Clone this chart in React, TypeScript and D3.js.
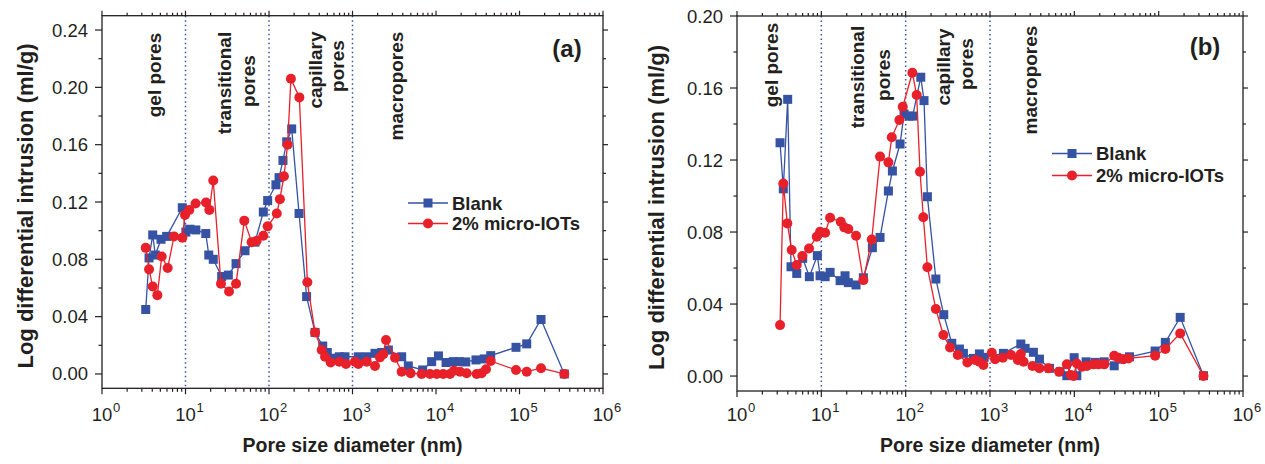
import * as d3 from "d3";
import React, { useEffect, useRef } from "react";

// pore diameter (nm), log differential intrusion (ml/g)
const blankA: [number, number][] = [
  [3.34, 0.045], [3.66, 0.081], [4.05, 0.097], [4.35, 0.083], [5.09, 0.094], [5.95, 0.096],
  [9.16, 0.116], [10.1, 0.099], [11.3, 0.101], [13.3, 0.1005], [17.5, 0.098], [19.0, 0.083],
  [21.5, 0.08], [27.1, 0.068], [32.6, 0.069], [40.3, 0.077], [51.6, 0.086], [68, 0.092],
  [85.5, 0.113], [96.4, 0.121], [121, 0.132], [132, 0.137], [147, 0.149], [163, 0.162],
  [187, 0.171], [229, 0.112], [282, 0.054], [356, 0.029], [440, 0.0195], [499, 0.015],
  [589, 0.011], [695, 0.012], [813, 0.012], [1175, 0.012], [1480, 0.012], [1860, 0.0144],
  [2240, 0.015], [2690, 0.0167], [3880, 0.012], [4660, 0.0056], [6920, 0.0028], [8870, 0.0086],
  [10700, 0.0126], [13200, 0.008], [16100, 0.0086], [19000, 0.0086], [22700, 0.0084],
  [30100, 0.0098], [37900, 0.0105], [45200, 0.0128], [90800, 0.0186], [122000, 0.021],
  [181000, 0.038], [344000, 0.0],
];

const iotsA: [number, number][] = [
  [3.34, 0.088], [3.66, 0.073], [4.05, 0.061], [4.6, 0.055], [5.19, 0.082], [6.12, 0.074],
  [7.28, 0.096], [9.16, 0.095], [9.86, 0.111], [11.1, 0.1145], [13.2, 0.119], [17.6, 0.1196],
  [19.3, 0.1145], [21.5, 0.135], [26.6, 0.063], [33.2, 0.0575], [40.3, 0.063], [50.6, 0.107],
  [62, 0.092], [71.2, 0.093], [85.5, 0.0965], [96.4, 0.103], [124, 0.112], [135, 0.122],
  [151, 0.138], [167, 0.16], [183, 0.206], [231, 0.193], [288, 0.064], [356, 0.029],
  [428, 0.0167], [469, 0.012], [548, 0.008], [695, 0.0086], [836, 0.007], [1070, 0.0086],
  [1175, 0.007], [1480, 0.0086], [1860, 0.0056], [2130, 0.0116], [2340, 0.0137], [2520, 0.0237],
  [3230, 0.0114], [3880, 0.0016], [4970, 0.0005], [6730, 0.0], [8470, 0.0], [10200, 0.0],
  [12200, 0.0], [14700, 0.0], [16400, 0.0023], [19400, 0.0016], [23300, 0.0005], [30700, 0.0],
  [35200, 0.0005], [39700, 0.0033], [45200, 0.0091], [90800, 0.0028], [122000, 0.0016],
  [181000, 0.004], [344000, 0.0],
];

const blankB: [number, number][] = [
  [3.24, 0.1296], [3.54, 0.104], [3.99, 0.1537], [4.37, 0.0607], [5.11, 0.057], [6.01, 0.0654],
  [7.21, 0.0552], [8.97, 0.0669], [9.66, 0.0557], [11.1, 0.0552], [12.7, 0.0576], [16.7, 0.053],
  [19.1, 0.0557], [20.9, 0.0519], [25.8, 0.0506], [31.5, 0.0546], [40.3, 0.0713], [49.7, 0.077],
  [62.4, 0.1028], [69.6, 0.1139], [85.8, 0.1289], [95.7, 0.1456], [110, 0.1444], [121, 0.1444],
  [151, 0.166], [165, 0.153], [181, 0.0996], [228, 0.0539], [283, 0.0341], [352, 0.0182],
  [434, 0.015], [484, 0.0126], [636, 0.0098], [749, 0.0123], [851, 0.0104], [1442, 0.0126],
  [2320, 0.0178], [2610, 0.0154], [3270, 0.0132], [3860, 0.0094], [5070, 0.0043], [6790, 0.0024],
  [8150, 0.0002], [9950, 0.0102], [10700, 0.0002], [13800, 0.0079], [17700, 0.0076],
  [22600, 0.0079], [29700, 0.0057], [35900, 0.0094], [45100, 0.0107], [90800, 0.0139],
  [120000, 0.0187], [180000, 0.0326], [340000, 0.0002],
];

const iotsB: [number, number][] = [
  [3.24, 0.0283], [3.54, 0.107], [3.95, 0.0848], [4.45, 0.07], [5.11, 0.0617], [5.95, 0.0667],
  [7.15, 0.0709], [8.82, 0.0774], [9.66, 0.0802], [11.1, 0.0796], [12.7, 0.0879], [17.0, 0.0857],
  [18.7, 0.0826], [20.9, 0.0817], [25.8, 0.0779], [31.5, 0.0533], [39.6, 0.0759], [49.7, 0.1219],
  [62.4, 0.1187], [68.4, 0.1326], [84.2, 0.1422], [92.4, 0.1496], [120, 0.1685], [135, 0.1561],
  [148, 0.1135], [162, 0.0882], [181, 0.0604], [228, 0.0372], [280, 0.0228], [336, 0.0159],
  [415, 0.0117], [539, 0.0076], [665, 0.0089], [749, 0.0079], [836, 0.0061], [1050, 0.0129],
  [1150, 0.0093], [1420, 0.0102], [1780, 0.0117], [2140, 0.0089], [2320, 0.0122], [2500, 0.0079],
  [3190, 0.0056], [3860, 0.0043], [4930, 0.0043], [6600, 0.0024], [8150, 0.0065], [9080, 0.0006],
  [9770, 0.0], [10700, 0.007], [12300, 0.0052], [14100, 0.0056], [16900, 0.0065], [19300, 0.0065],
  [22600, 0.0065], [29700, 0.0113], [33400, 0.0102], [38300, 0.0093], [43800, 0.0098],
  [90800, 0.0113], [120000, 0.015], [180000, 0.0237], [340000, 0.0],
];

const seriesNames = ["Blank", "2% micro-IOTs"];
const xMajor = [1, 10, 100, 1000, 1e4, 1e5, 1e6];
const xExponents = ["0", "1", "2", "3", "4", "5", "6"];
const yTicksA = [0, 0.04, 0.08, 0.12, 0.16, 0.2, 0.24];
const yTicksB = [0, 0.04, 0.08, 0.12, 0.16, 0.2];
const boundaries = [10, 100, 1000];

// pore-class labels: [diameter at label, text, vertical centre px]
const labelsA: [number, string, number][] = [
  [4.3, "gel pores", 75], [29.7, "transitional", 83], [57.6, "pores", 81],
  [365, "capillary", 70], [670, "pores", 66], [3320, "macropores", 86],
];
const labelsB: [number, string, number][] = [
  [2.55, "gel pores", 65], [27.2, "transitional", 77], [54, "pores", 75],
  [278, "capillary", 67], [520, "pores", 64], [2990, "macropores", 80],
];

const BLUE = "#3552a3";
const RED = "#e8202a";
const INK = "#231f20";
const FONT = "'Liberation Sans', Arial, Helvetica, sans-serif";

const panels = [
  {
    left: 102, right: 603, top: 15.7, bottom: 388.3, yDomain: [-0.01, 0.25],
    yTicks: yTicksA, yMax: 0.25, blank: blankA, iots: iotsA, labels: labelsA,
    tag: "(a)", tagX: 567, tagY: 48, legX: 408, legY: [203, 223.5], yTitleX: 25,
  },
  {
    left: 737, right: 1243, top: 16, bottom: 391, yDomain: [-0.0083, 0.2],
    yTicks: yTicksB, yMax: 0.2, blank: blankB, iots: iotsB, labels: labelsB,
    tag: "(b)", tagX: 1205, tagY: 46, legX: 1052, legY: [153.5, 175.5], yTitleX: 656,
  },
];

export default function App() {
  const svgRef = useRef<SVGSVGElement>(null);

  useEffect(() => {
    const svg = d3.select(svgRef.current);
    svg.selectAll("*").remove();

    panels.forEach((p) => {
      const x = d3.scaleLog().domain([1, 1e6]).range([p.left, p.right]);
      const y = d3.scaleLinear().domain(p.yDomain).range([p.bottom, p.top]);
      const g = svg.append("g");

      // boundaries between pore classes
      boundaries.forEach((b) => {
        g.append("line")
          .attr("x1", x(b)).attr("x2", x(b))
          .attr("y1", p.top).attr("y2", p.bottom)
          .attr("stroke", BLUE).attr("stroke-width", 1.5)
          .attr("stroke-dasharray", "1.5,3");
      });

      // frame
      g.append("rect")
        .attr("x", p.left).attr("y", p.top)
        .attr("width", p.right - p.left).attr("height", p.bottom - p.top)
        .attr("fill", "none").attr("stroke", INK).attr("stroke-width", 1.3);

      // x ticks (log, with minor)
      const xMinor: number[] = [];
      for (let e = 0; e < 6; e++) for (let k = 2; k <= 9; k++) xMinor.push(k * 10 ** e);
      const tick = (x1: number, y1: number, x2: number, y2: number) =>
        g.append("line").attr("x1", x1).attr("y1", y1).attr("x2", x2).attr("y2", y2)
          .attr("stroke", INK).attr("stroke-width", 1.2);
      xMajor.forEach((v) => {
        tick(x(v), p.bottom, x(v), p.bottom + 6);
        tick(x(v), p.top, x(v), p.top - 5);
      });
      xMinor.forEach((v) => {
        tick(x(v), p.bottom, x(v), p.bottom + 3.5);
        tick(x(v), p.top, x(v), p.top - 3);
      });

      xMajor.forEach((v, i) => {
        g.append("text")
          .attr("x", x(v)).attr("y", 421)
          .attr("text-anchor", "middle")
          .style("font-family", FONT).style("font-size", "18.5px").attr("fill", INK)
          .text("10");
        g.append("text")
          .attr("x", x(v) + 11).attr("y", 412)
          .style("font-family", FONT).style("font-size", "13px").attr("fill", INK)
          .text(xExponents[i]);
      });

      // y ticks
      p.yTicks.forEach((v) => {
        tick(p.left - 7, y(v), p.left, y(v));
        tick(p.right, y(v), p.right + 5, y(v));
        g.append("text")
          .attr("x", p.left - 14).attr("y", y(v))
          .attr("text-anchor", "end").attr("dominant-baseline", "central")
          .style("font-family", FONT).style("font-size", "18.5px").attr("fill", INK)
          .text(d3.format(".2f")(v));
      });
      d3.range(0.02, p.yMax, 0.04).forEach((v) => {
        tick(p.left - 3.5, y(v), p.left, y(v));
        tick(p.right, y(v), p.right + 3, y(v));
      });

      // axis titles
      g.append("text")
        .attr("x", (p.left + p.right) / 2).attr("y", 452)
        .attr("text-anchor", "middle")
        .style("font-family", FONT).style("font-size", "19.5px").style("font-weight", "bold")
        .attr("fill", INK)
        .text("Pore size diameter (nm)");
      g.append("text")
        .attr("transform", `translate(${p.yTitleX},${(p.top + p.bottom) / 2 + 4}) rotate(-90)`)
        .attr("text-anchor", "middle").attr("dominant-baseline", "central")
        .style("font-family", FONT).style("font-size", "22px").style("font-weight", "bold")
        .attr("fill", INK)
        .text("Log differential intrusion (ml/g)");

      // pore class labels
      p.labels.forEach(([d, t, cy]) => {
        g.append("text")
          .attr("transform", `translate(${x(d)},${cy}) rotate(-90)`)
          .attr("text-anchor", "middle").attr("dominant-baseline", "central")
          .style("font-family", FONT).style("font-size", "19px").style("font-weight", "bold")
          .attr("fill", INK)
          .text(t);
      });

      // panel tag
      g.append("text")
        .attr("x", p.tagX).attr("y", p.tagY)
        .attr("text-anchor", "middle").attr("dominant-baseline", "central")
        .style("font-family", FONT).style("font-size", "24px").style("font-weight", "bold")
        .attr("fill", INK)
        .text(p.tag);

      // series
      const line = d3.line<[number, number]>()
        .x((d) => x(d[0]))
        .y((d) => y(d[1]));

      g.append("path").datum(p.blank)
        .attr("fill", "none").attr("stroke", BLUE).attr("stroke-width", 1.3)
        .attr("d", line);
      g.selectAll(null).data(p.blank).enter().append("rect")
        .attr("x", (d) => x(d[0]) - 4.5).attr("y", (d) => y(d[1]) - 4.5)
        .attr("width", 9).attr("height", 9)
        .attr("fill", BLUE);

      g.append("path").datum(p.iots)
        .attr("fill", "none").attr("stroke", RED).attr("stroke-width", 1.3)
        .attr("d", line);
      g.selectAll(null).data(p.iots).enter().append("circle")
        .attr("cx", (d) => x(d[0])).attr("cy", (d) => y(d[1]))
        .attr("r", 5)
        .attr("fill", RED);

      // legend
      seriesNames.forEach((name, i) => {
        const ly = p.legY[i];
        const col = i === 0 ? BLUE : RED;
        g.append("line")
          .attr("x1", p.legX).attr("x2", p.legX + 40)
          .attr("y1", ly).attr("y2", ly)
          .attr("stroke", col).attr("stroke-width", 1.3);
        if (i === 0) {
          g.append("rect")
            .attr("x", p.legX + 15.5).attr("y", ly - 4.5)
            .attr("width", 9).attr("height", 9).attr("fill", col);
        } else {
          g.append("circle")
            .attr("cx", p.legX + 20).attr("cy", ly).attr("r", 5).attr("fill", col);
        }
        g.append("text")
          .attr("x", p.legX + 44).attr("y", ly)
          .attr("dominant-baseline", "central")
          .style("font-family", FONT).style("font-size", "18.5px").style("font-weight", "bold")
          .attr("fill", INK)
          .text(name);
      });
    });
  }, []);

  return (
    <svg
      ref={svgRef}
      width={1265}
      height={464}
      style={{ position: "absolute", left: 0, top: 0, background: "#fff" }}
    />
  );
}
